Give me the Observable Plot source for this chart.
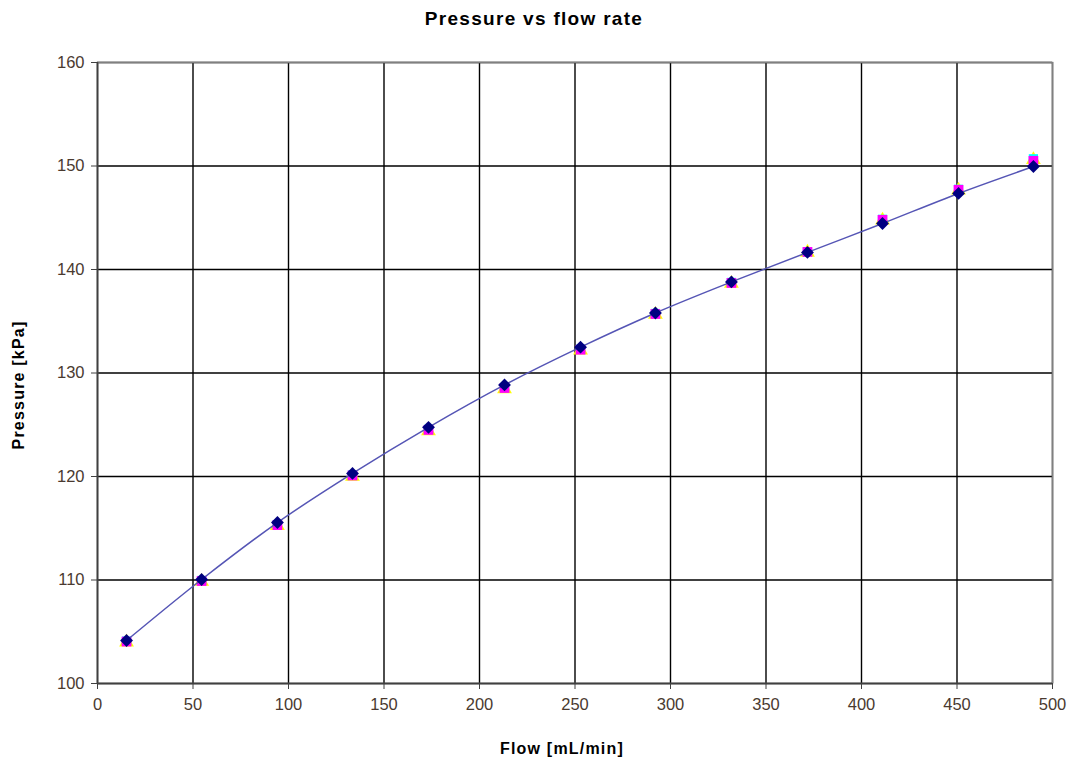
<!DOCTYPE html>
<html>
<head>
<meta charset="utf-8">
<script src="https://cdn.jsdelivr.net/npm/d3@7"></script>
<script src="https://cdn.jsdelivr.net/npm/@observablehq/plot@0.6"></script>
<style>
  html, body { margin: 0; padding: 0; background: #fff; }
  #chart { width: 1070px; height: 762px; position: relative; }
</style>
</head>
<body>
<div id="chart"></div>
<script>
const flow = [15.2, 54.5, 94.2, 133.5, 173.3, 213.1, 252.9, 292.1, 331.9, 371.7, 411.0, 450.8, 490.0];
const pressureA = [104.15, 110.05, 115.55, 120.3, 124.75, 128.85, 132.5, 135.8, 138.8, 141.65, 144.45, 147.35, 149.95];
const pressureB = [104.05, 109.9, 115.3, 120.1, 124.5, 128.55, 132.25, 135.7, 138.7, 141.7, 144.8, 147.7, 150.5];
const pressureC = [104.0, 109.85, 115.25, 120.0, 124.4, 128.45, 132.2, 135.65, 138.65, 141.65, 144.75, 147.65, 150.6];
const pressureD = [104.1, 109.95, 115.35, 120.15, 124.55, 128.6, 132.3, 135.75, 138.75, 141.7, 144.85, 147.75, 150.7];
const xTicks = [0, 50, 100, 150, 200, 250, 300, 350, 400, 450, 500];
const yTicks = [100, 110, 120, 130, 140, 150, 160];

const rows = (ys) => flow.map((x, i) => ({x, y: ys[i]}));
const A = rows(pressureA), B = rows(pressureB), C = rows(pressureC), D = rows(pressureD);

const font = "'Liberation Sans', Arial, sans-serif";

const plot = Plot.plot({
  width: 1070,
  height: 762,
  marginLeft: 97,
  marginRight: 18,
  marginTop: 62,
  marginBottom: 79,
  style: {fontFamily: font, fontSize: "16px", background: "#fff", overflow: "visible"},
  x: {domain: [0, 500], ticks: xTicks, label: null},
  y: {domain: [100, 160], ticks: yTicks, label: null},
  marks: [
    Plot.gridX(xTicks, {stroke: "#000", strokeOpacity: 1, strokeWidth: 1.4}),
    Plot.gridY(yTicks, {stroke: "#000", strokeOpacity: 1, strokeWidth: 1.4}),
    Plot.frame({stroke: "#808080", strokeWidth: 1.5}),
    Plot.ruleX([0], {stroke: "#404040", strokeWidth: 1.5}),
    Plot.ruleY([100], {stroke: "#404040", strokeWidth: 1.5}),
    Plot.axisX(xTicks, {tickSize: 6, tickPadding: 9, fill: "#4a3a30", fontSize: 16.5, stroke: "#404040"}),
    Plot.axisY(yTicks, {tickSize: 6, tickPadding: 7, fill: "#4a3a30", fontSize: 16.5, stroke: "#404040"}),
    Plot.dot(C, {x: "x", y: "y", symbol: "triangle", r: 5.5, fill: "#ffff00", stroke: "none"}),
    Plot.dot(D, {x: "x", y: "y", symbol: "square", r: 5.2, fill: "#00ffff", stroke: "none"}),
    Plot.dot(B, {x: "x", y: "y", symbol: "square", r: 5.5, fill: "#ff00ff", stroke: "none"}),
    Plot.line(A, {x: "x", y: "y", curve: "catmull-rom", stroke: "#5555b5", strokeWidth: 1.5}),
    Plot.dot(A, {x: "x", y: "y", symbol: "diamond2", r: 5.8, fill: "#000080", stroke: "none"})
  ]
});

const svg = d3.select(plot);
svg.append("text").attr("x", 534).attr("y", 25).attr("text-anchor", "middle")
  .attr("font-family", font).attr("font-size", 19).attr("font-weight", "bold").attr("fill", "#000")
  .attr("letter-spacing", "1.3px")
  .text("Pressure vs flow rate");
svg.append("text").attr("x", 562).attr("y", 754).attr("text-anchor", "middle")
  .attr("font-family", font).attr("font-size", 16).attr("font-weight", "bold").attr("fill", "#000")
  .attr("letter-spacing", "1.2px")
  .text("Flow [mL/min]");
svg.append("text").attr("transform", "translate(24,385) rotate(-90)").attr("text-anchor", "middle")
  .attr("font-family", font).attr("font-size", 16).attr("font-weight", "bold").attr("fill", "#000")
  .attr("letter-spacing", "1.2px")
  .text("Pressure [kPa]");

document.getElementById("chart").appendChild(plot);
</script>
</body>
</html>
